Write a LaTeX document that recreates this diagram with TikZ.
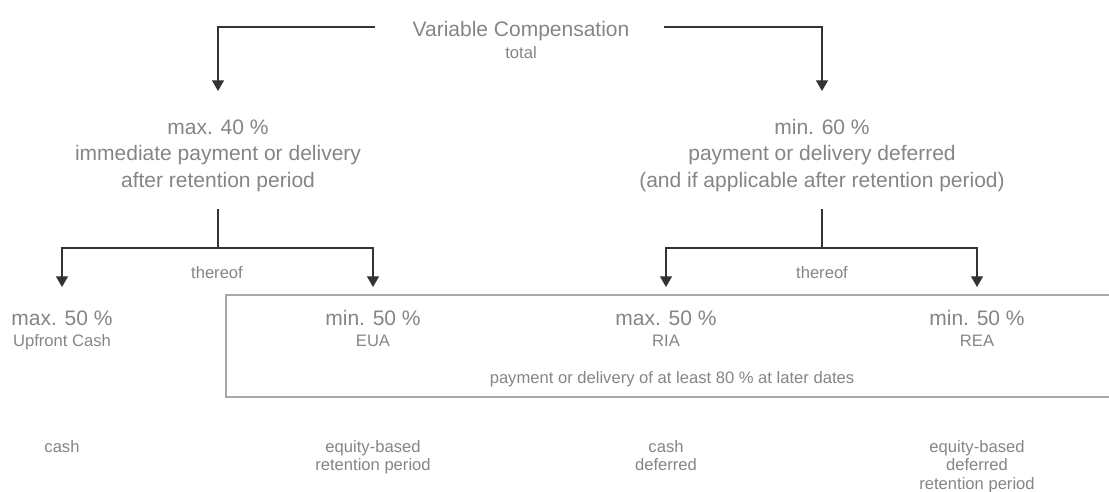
\documentclass[tikz,border=0pt]{standalone}
\usepackage{fontspec}
\setmainfont{Liberation Sans}
\usetikzlibrary{arrows.meta,calc}
\definecolor{txt}{HTML}{858585}
\definecolor{ln}{HTML}{333333}
\definecolor{bx}{HTML}{A8A8A8}
\begin{document}
\begin{tikzpicture}[x=0.75pt,y=-0.75pt,
  big/.style={font=\fontsize{15.75}{19}\selectfont, text=txt, inner sep=0pt, anchor=base},
  small/.style={font=\fontsize{12.45}{14}\selectfont, text=txt, inner sep=0pt, anchor=base},
  conn/.style={draw=ln, line width=0.9pt},
  arr/.style={conn, -{Triangle[width=9pt,length=8pt]}},
  boxline/.style={draw=bx, line width=1.1pt}]
\useasboundingbox (0,0) rectangle (1109,492);

% title
\node[big] (title) at (521,37) {Variable Compensation};
\node[small] (total) at (521,59) {total};
\coordinate (tsl) at (375,27);
\coordinate (tsr) at (664,27);

% second level
\node[big] (l1) at (218,134) {max. 40 \%};
\node[big] (l2) at (218,160.5) {immediate payment or delivery};
\node[big] (l3) at (218,187) {after retention period};
\node[big] (r1) at (822,134) {min. 60 \%};
\node[big] (r2) at (822,160.5) {payment or delivery deferred};
\node[big] (r3) at (822,187) {(and if applicable after retention period)};

\draw[arr] (tsl) -| ($(l1.base)+(0,-43)$);
\draw[arr] (tsr) -| ($(r1.base)+(0,-43)$);

% thereof
\node[small] (th1) at (217,278) {thereof};
\node[small] (th2) at (822,278) {thereof};

% box
\draw[boxline] (1109,295) -- (226,295) -- (226,397) -- (1109,397);

% third level
\node[big] (p1) at (62,325) {max. 50 \%};
\node[small] (s1) at (62,346) {Upfront Cash};
\node[big] (p2) at (373,325) {min. 50 \%};
\node[small] (s2) at (373,346) {EUA};
\node[big] (p3) at (666,325) {max. 50 \%};
\node[small] (s3) at (666,346) {RIA};
\node[big] (p4) at (977,325) {min. 50 \%};
\node[small] (s4) at (977,346) {REA};
\node[small] (later) at (672,383) {payment or delivery of at least 80 \% at later dates};

% connectors lower
\coordinate (lj) at (218,248);
\coordinate (rj) at (822,248);
\draw[conn] ($(l3.base)+(0,22)$) -- (lj);
\draw[conn] ($(r3.base)+(0,22)$) -- (rj);
\draw[arr] (lj) -| ($(p1.base)+(0,-38)$);
\draw[arr] (lj) -| ($(p2.base)+(0,-38)$);
\draw[arr] (rj) -| ($(p3.base)+(0,-38)$);
\draw[arr] (rj) -| ($(p4.base)+(0,-38)$);

% bottom descriptions
\node[small] (b1) at (62,452) {cash};
\node[small] (b2a) at (373,452) {equity-based};
\node[small] (b2b) at (373,470.5) {retention period};
\node[small] (b3a) at (666,452) {cash};
\node[small] (b3b) at (666,470.5) {deferred};
\node[small] (b4a) at (977,452) {equity-based};
\node[small] (b4b) at (977,470.5) {deferred};
\node[small] (b4c) at (977,489) {retention period};
\end{tikzpicture}
\end{document}
